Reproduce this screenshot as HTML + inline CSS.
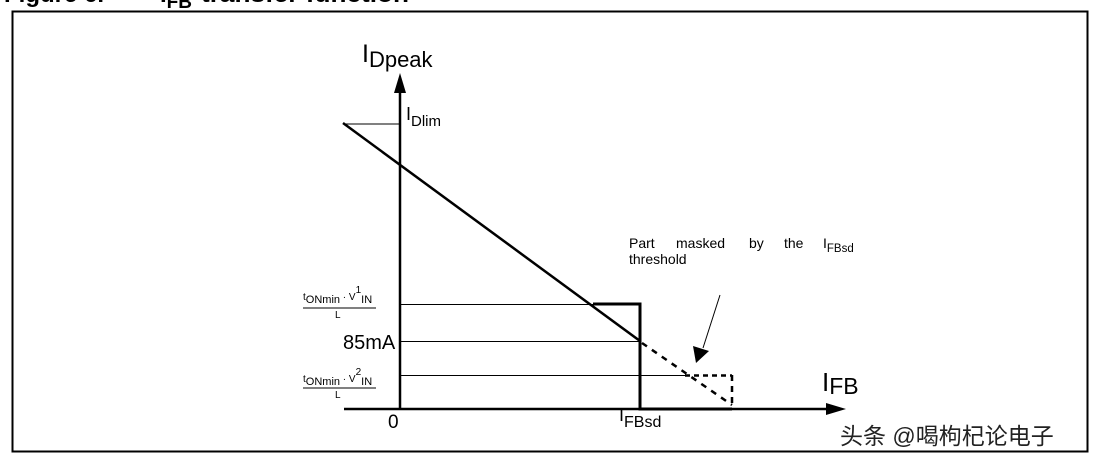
<!DOCTYPE html>
<html><head><meta charset="utf-8"><style>
html,body{margin:0;padding:0;background:#fff;}
svg{display:block;}
text{font-family:"Liberation Sans",Arial,sans-serif;fill:#000;}
</style></head><body>
<svg width="1116" height="464" viewBox="0 0 1116 464" xmlns="http://www.w3.org/2000/svg">
<g font-size="24" font-weight="bold">
<text x="4" y="2">Figure 6.</text>
<text x="160" y="2">I<tspan font-size="19" dy="6">FB</tspan></text>
<text x="201" y="2" textLength="208" lengthAdjust="spacingAndGlyphs">transfer function</text>
</g>
<rect x="12.5" y="11.5" width="1075" height="440" fill="none" stroke="#000" stroke-width="2"/>
<!-- axes -->
<line x1="400" y1="410" x2="400" y2="90" stroke="#000" stroke-width="2.5"/>
<polygon points="400,73 394,93 406,93" fill="#000"/>
<line x1="344" y1="409" x2="828" y2="409" stroke="#000" stroke-width="2.5"/>
<polygon points="846,409 826,403 826,415" fill="#000"/>
<!-- thin lines -->
<line x1="343" y1="124" x2="400" y2="124" stroke="#000" stroke-width="1"/>
<line x1="400" y1="304.5" x2="594" y2="304.5" stroke="#000" stroke-width="1"/>
<line x1="400" y1="341.5" x2="640" y2="341.5" stroke="#000" stroke-width="1"/>
<line x1="400" y1="375.5" x2="685" y2="375.5" stroke="#000" stroke-width="1"/>
<!-- thick -->
<polyline points="593,304 640,304 640,409 732,409" fill="none" stroke="#000" stroke-width="3"/>
<line x1="343" y1="123" x2="640" y2="341" stroke="#000" stroke-width="2.5"/>
<line x1="642" y1="343" x2="732" y2="405" stroke="#000" stroke-width="2.5" stroke-dasharray="6,6"/>
<line x1="685" y1="375.5" x2="732" y2="375.5" stroke="#000" stroke-width="2.5" stroke-dasharray="5,4"/>
<line x1="732" y1="375" x2="732" y2="409" stroke="#000" stroke-width="2.5" stroke-dasharray="6,5"/>
<!-- pointer -->
<line x1="720" y1="295" x2="703" y2="348" stroke="#000" stroke-width="1"/>
<polygon points="696,363 693,346 709,351" fill="#000"/>
<!-- labels -->
<text x="362" y="62" font-size="25">I<tspan font-size="22" dy="5">Dpeak</tspan></text>
<text x="406" y="120" font-size="18">I<tspan font-size="15" dy="6">Dlim</tspan></text>
<text x="343" y="349" font-size="20">85mA</text>
<text x="388" y="428" font-size="19">0</text>
<text x="619" y="421" font-size="18">I<tspan font-size="16" dy="6">FBsd</tspan></text>
<text x="822" y="391" font-size="26">I<tspan font-size="23" dy="3">FB</tspan></text>
<text x="629" y="248" font-size="14">Part<tspan x="676">masked</tspan><tspan x="749">by</tspan><tspan x="784">the</tspan><tspan x="823">I</tspan><tspan font-size="11.5" dy="4">FBsd</tspan></text>
<text x="629" y="264" font-size="14">threshold</text>
<!-- fractions -->
<g font-size="10">
<text x="303" y="300">t<tspan font-size="11" dy="3">ONmin</tspan><tspan dy="-3"> · V</tspan><tspan font-size="10" dy="-7">1</tspan><tspan font-size="11" dy="10">IN</tspan></text>
<line x1="303" y1="308" x2="376" y2="308" stroke="#000" stroke-width="1"/>
<text x="335" y="318" font-size="10">L</text>
<text x="303" y="382">t<tspan font-size="11" dy="3">ONmin</tspan><tspan dy="-3"> · V</tspan><tspan font-size="10" dy="-7">2</tspan><tspan font-size="11" dy="10">IN</tspan></text>
<line x1="303" y1="388" x2="376" y2="388" stroke="#000" stroke-width="1"/>
<text x="335" y="398" font-size="10">L</text>
</g>
<text x="840" y="444" font-size="23" style="font-family:'Liberation Sans','Noto Sans CJK SC',sans-serif;fill:#222;stroke:#fff;stroke-width:0.6;paint-order:stroke">头条 @喝枸杞论电子</text>
</svg>
</body></html>
